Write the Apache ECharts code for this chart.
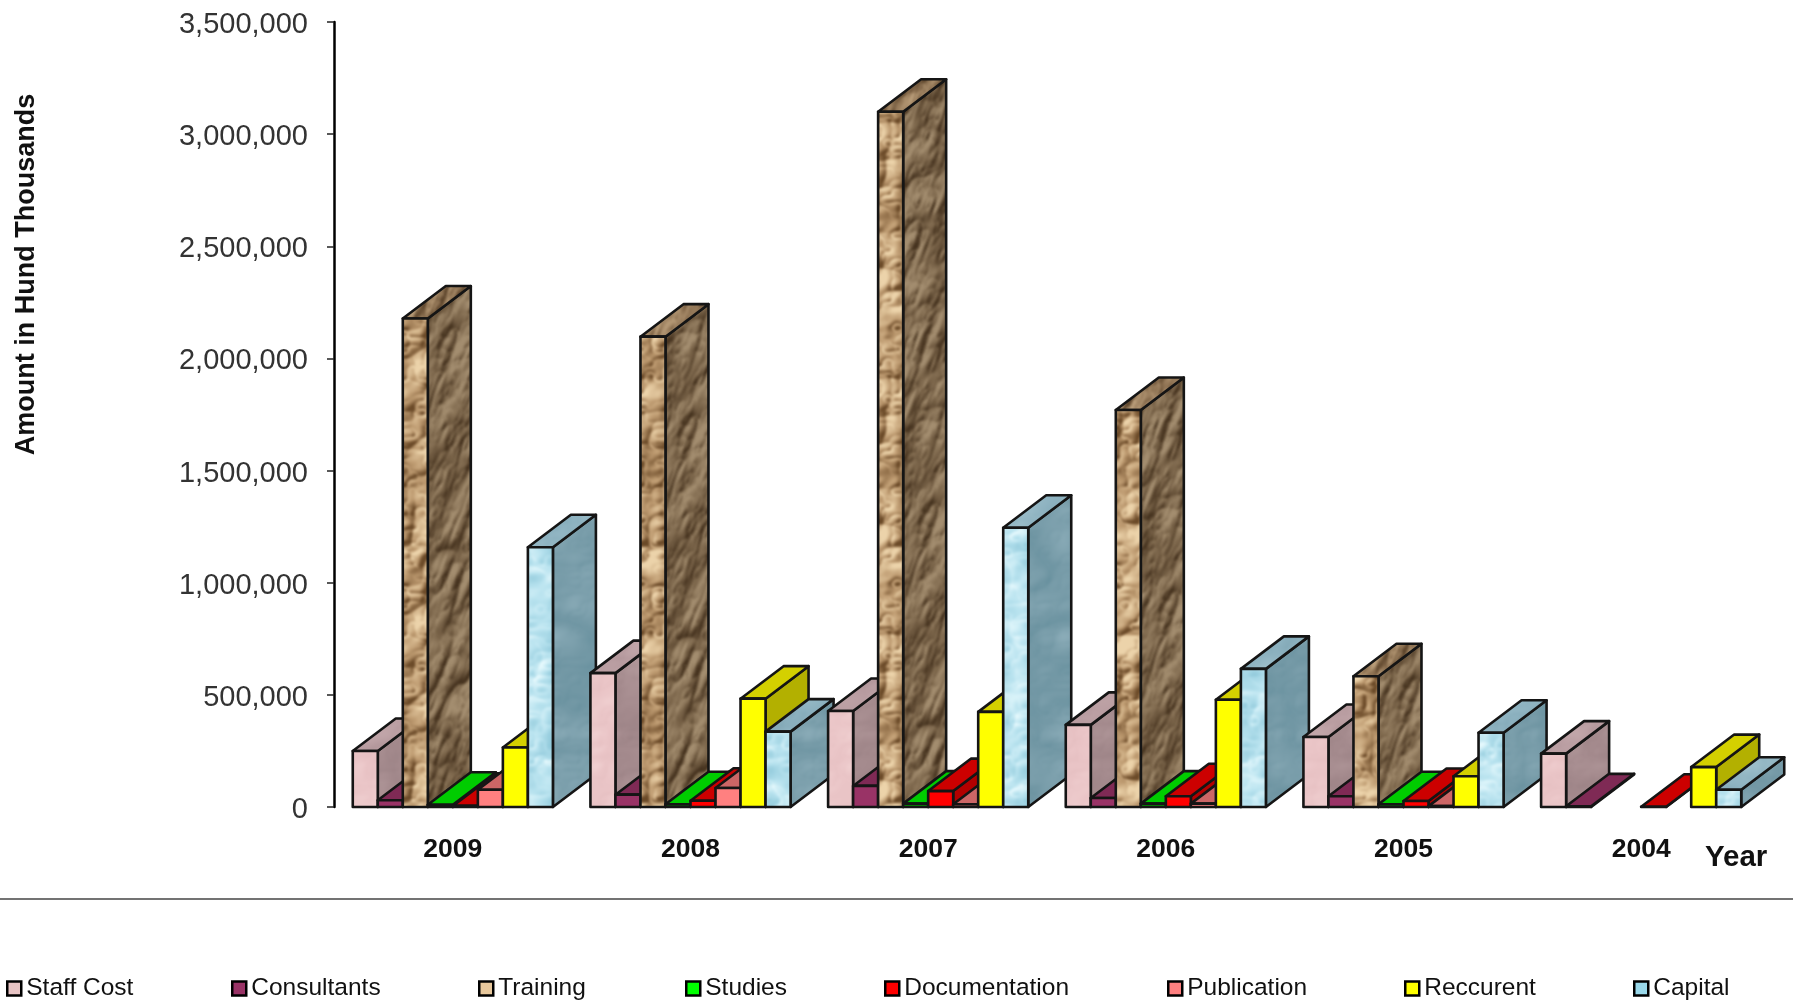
<!DOCTYPE html>
<html>
<head>
<meta charset="utf-8">
<title>Expenditure by head, 2004-2009</title>
<style>html,body{margin:0;padding:0;background:#fff}#chart{width:1793px;height:1003px}</style>
<script src="https://cdn.jsdelivr.net/npm/echarts@6/dist/echarts.min.js"></script>
</head>
<body>
<div id="chart"></div>
<script>
// Budget heads, one list per series, in year order.
const years = ['2009', '2008', '2007', '2006', '2005', '2004'];
const staffCost     = [250000, 597000, 428000, 366000, 312000, 238000];
const consultants   = [30000, 55000, 94000, 40000, 48000, 3000];
const training      = [2178000, 2097000, 3100000, 1770000, 583000, 0];
const studies       = [10000, 12000, 15000, 15000, 12000, 0];
const documentation = [5000, 28000, 71000, 48000, 27000, 1000];
const publication   = [77000, 85000, 12000, 15000, 4000, 0];
const reccurent     = [265000, 483000, 424000, 478000, 137000, 178000];
const capital       = [1158000, 336000, 1245000, 616000, 331000, 77000];
const seriesNames = ['Staff Cost', 'Consultants', 'Training', 'Studies', 'Documentation', 'Publication', 'Reccurent', 'Capital'];
const seriesValues = [staffCost, consultants, training, studies, documentation, publication, reccurent, capital];
const legendSwatchColors = ['#e8c4c4', '#993366', '#e8c89c', '#00ff00', '#ff0000', '#ff8080', '#ffff00', '#99d8ea'];
const legendLefts = [6, 231, 478, 685, 884, 1167, 1404, 1633];
const yTicks = { min: 0, max: 3500000, interval: 500000 };

// Tileable value noise for the paper and marble bar finishes.
function hash(x, y, seed) {
  const s = Math.sin(x * 127.1 + y * 311.7 + seed * 74.7) * 43758.5453;
  return s - Math.floor(s);
}
function vnoise(x, y, px, py, seed) {
  const xi = Math.floor(x), yi = Math.floor(y);
  const fx = x - xi, fy = y - yi;
  const u = fx * fx * (3 - 2 * fx), v = fy * fy * (3 - 2 * fy);
  const w = (a, p) => ((a % p) + p) % p;
  const a = hash(w(xi, px), w(yi, py), seed), b = hash(w(xi + 1, px), w(yi, py), seed);
  const c = hash(w(xi, px), w(yi + 1, py), seed), d = hash(w(xi + 1, px), w(yi + 1, py), seed);
  return a + (b - a) * u + (c - a) * v + (a - b - c + d) * u * v;
}
function hexRgb(h) {
  return [parseInt(h.slice(1, 3), 16), parseInt(h.slice(3, 5), 16), parseInt(h.slice(5, 7), 16)];
}
// Height field of folded ridges, lit from one corner; the tile is softened with wrapped edges.
function makeTexture(o) {
  const size = 256;
  const raw = document.createElement('canvas');
  raw.width = raw.height = size;
  const rawCtx = raw.getContext('2d');
  const img = rawCtx.createImageData(size, size);
  const dark = hexRgb(o.dark), mid = hexRgb(o.mid), light = hexRgb(o.light);
  const field = (x, y) => {
    let sum = 0, amp = 1, cx = o.cx, cy = o.cy, norm = 0;
    for (let k = 0; k < 3; k++) {
      const n = vnoise(x * cx, y * cy, cx, cy, o.seed + k);
      sum += amp * Math.abs(2 * n - 1);
      norm += amp; amp *= 0.5; cx *= 2; cy *= 2;
    }
    return sum / norm;
  };
  const e = 2 / size;
  for (let j = 0; j < size; j++) {
    for (let i = 0; i < size; i++) {
      const x = i / size, y = j / size;
      const h0 = field(x, y);
      const slope = (field((x + e) % 1, y) - h0) + (field(x, (y + e) % 1) - h0);
      let t = 0.5 + o.lift + slope * o.relief + (h0 - 0.3) * o.tone;
      t = Math.max(0, Math.min(1, t));
      const from = t < 0.5 ? dark : mid, to = t < 0.5 ? mid : light;
      const k = t < 0.5 ? t * 2 : t * 2 - 1, p = (j * size + i) * 4;
      img.data[p] = from[0] + (to[0] - from[0]) * k;
      img.data[p + 1] = from[1] + (to[1] - from[1]) * k;
      img.data[p + 2] = from[2] + (to[2] - from[2]) * k;
      img.data[p + 3] = 255;
    }
  }
  rawCtx.putImageData(img, 0, 0);
  // Lay the tile out three times across so the blur has opaque neighbours at every edge.
  const wrapped = document.createElement('canvas');
  wrapped.width = wrapped.height = size * 3;
  const wrappedCtx = wrapped.getContext('2d');
  for (let dy = 0; dy < 3; dy++) {
    for (let dx = 0; dx < 3; dx++) wrappedCtx.drawImage(raw, dx * size, dy * size);
  }
  const canvas = document.createElement('canvas');
  canvas.width = canvas.height = size;
  const ctx = canvas.getContext('2d');
  ctx.filter = 'blur(1px)';
  ctx.drawImage(wrapped, -size, -size);
  return { image: canvas, repeat: 'repeat', rotation: o.rotation || 0 };
}

const paper = { cx: 7, cy: 9, relief: 4.2, tone: 1.0, lift: 0.02 };
const streak = { cx: 18, cy: 6, relief: 3.0, tone: 0.9, lift: -0.03, rotation: 0.35 };
const marble = { cx: 7, cy: 8, relief: 2.0, tone: -0.9, lift: 0.02 };
const mottle = { cx: 6, cy: 8, relief: 1.2, tone: 0.7, lift: 0 };
const trainingFaces = {
  front: makeTexture({ ...paper, seed: 1, dark: '#6b4a28', mid: '#bd9a70', light: '#ecd3aa' }),
  side: makeTexture({ ...streak, seed: 2, dark: '#46331f', mid: '#7b654a', light: '#a38d6f' }),
  top: makeTexture({ ...streak, seed: 3, dark: '#5a4229', mid: '#937757', light: '#bb9f7b' })
};
const capitalFaces = {
  front: makeTexture({ ...marble, seed: 4, dark: '#93cbdc', mid: '#b9e3ef', light: '#e6f9fd' }),
  side: makeTexture({ ...mottle, seed: 5, dark: '#618c9a', mid: '#7499a6', light: '#8bacb8' }),
  top: makeTexture({ ...mottle, seed: 6, dark: '#7aa1af', mid: '#8db2c0', light: '#a3c3ce' })
};
const staffFaces = {
  front: makeTexture({ ...mottle, seed: 7, dark: '#e0b9bb', mid: '#eac5c7', light: '#f4d8d8' }),
  side: makeTexture({ ...mottle, seed: 8, dark: '#957d80', mid: '#a48a8d', light: '#b39a9c' }),
  top: makeTexture({ ...mottle, seed: 9, dark: '#ac9094', mid: '#b99da1', light: '#c6abae' })
};
const faceFills = [
  staffFaces,
  { front: '#993366', side: '#6f2549', top: '#7f2a55' },
  trainingFaces,
  { front: '#009900', side: '#00a000', top: '#00cc00' },
  { front: '#ff0000', side: '#b30000', top: '#cc0000' },
  { front: '#ff8080', side: '#b35a5a', top: '#cc6666' },
  { front: '#ffff00', side: '#b3b000', top: '#d4d000' },
  capitalFaces
];

// Every head is drawn as an oblique box: front, side and top faces.
const DEPTH_X = 43, DEPTH_Y = 32.5, SLOTS = 9.5, EDGE = '#151515';
function renderBox(seriesIndex, params, api) {
  const cat = api.value(0), value = api.value(1);
  if (!value) return null;
  const band = api.size([1, 0])[0];
  const w = band / SLOTS;
  const base = api.coord([cat, 0]);
  const tip = api.coord([cat, value]);
  const x0 = base[0] - 4 * w + seriesIndex * w, x1 = x0 + w;
  const y0 = base[1], y1 = tip[1];
  const fills = faceFills[seriesIndex];
  const order = (cat * 8 + seriesIndex) * 3;
  const face = (points, fill, z2) => ({
    type: 'polygon',
    z2,
    shape: { points },
    style: { fill, stroke: EDGE, lineWidth: 2.6, lineJoin: 'round' }
  });
  return {
    type: 'group',
    children: [
      face([[x1, y0], [x1 + DEPTH_X, y0 - DEPTH_Y], [x1 + DEPTH_X, y1 - DEPTH_Y], [x1, y1]], fills.side, order),
      face([[x0, y1], [x1, y1], [x1 + DEPTH_X, y1 - DEPTH_Y], [x0 + DEPTH_X, y1 - DEPTH_Y]], fills.top, order + 1),
      face([[x0, y0], [x1, y0], [x1, y1], [x0, y1]], fills.front, order + 2)
    ]
  };
}

const chart = echarts.init(document.getElementById('chart'), null, { renderer: 'canvas' });
chart.setOption({
  animation: false,
  backgroundColor: '#fff',
  grid: { left: 334, right: 33, top: 22, bottom: 196 },
  xAxis: {
    type: 'category',
    data: years,
    axisLine: { show: false },
    axisTick: { show: false },
    axisLabel: { margin: 29, fontFamily: 'Liberation Sans', fontWeight: 'bold', fontSize: 26.5, color: '#111' }
  },
  yAxis: {
    type: 'value',
    min: yTicks.min,
    max: yTicks.max,
    interval: yTicks.interval,
    name: 'Amount in Hund Thousands',
    nameLocation: 'middle',
    nameRotate: 90,
    nameGap: 294,
    nameTextStyle: {
      fontFamily: 'Liberation Sans',
      fontWeight: 'bold',
      fontSize: 27,
      color: '#111',
      padding: [0, 0, 0, 280]
    },
    axisLine: { show: true, lineStyle: { color: '#000', width: 2.5 } },
    axisTick: { show: true, length: 7, lineStyle: { color: '#222', width: 1.5 } },
    splitLine: { show: false },
    axisLabel: {
      margin: 26,
      verticalAlign: 'top',
      lineHeight: 6,
      fontFamily: 'Liberation Sans',
      fontSize: 29,
      color: '#333',
      formatter: (v) => v.toLocaleString('en-US')
    }
  },
  legend: seriesNames.map((name, i) => ({
    data: [name],
    left: legendLefts[i],
    top: 976,
    padding: 0,
    selectedMode: false,
    itemWidth: 14,
    itemHeight: 14,
    icon: 'rect',
    itemStyle: { borderColor: '#000', borderWidth: 2.5 },
    textStyle: { fontFamily: 'Liberation Sans', fontSize: 24.5, color: '#111' }
  })),
  graphic: [
    {
      type: 'line',
      shape: { x1: 0, y1: 899, x2: 1793, y2: 899 },
      style: { stroke: '#444', lineWidth: 1.5 },
      silent: true
    },
    {
      type: 'text',
      left: 1705,
      top: 843,
      style: { text: 'Year', fontFamily: 'Liberation Sans', fontWeight: 'bold', fontSize: 29.5, fill: '#111' },
      silent: true
    }
  ],
  series: seriesNames.map((name, i) => ({
    type: 'custom',
    name,
    silent: true,
    coordinateSystem: 'cartesian2d',
    itemStyle: { color: legendSwatchColors[i] },
    encode: { x: 0, y: 1 },
    data: seriesValues[i].map((v, c) => [c, v]),
    renderItem: (params, api) => renderBox(i, params, api)
  }))
});
</script>
</body>
</html>
